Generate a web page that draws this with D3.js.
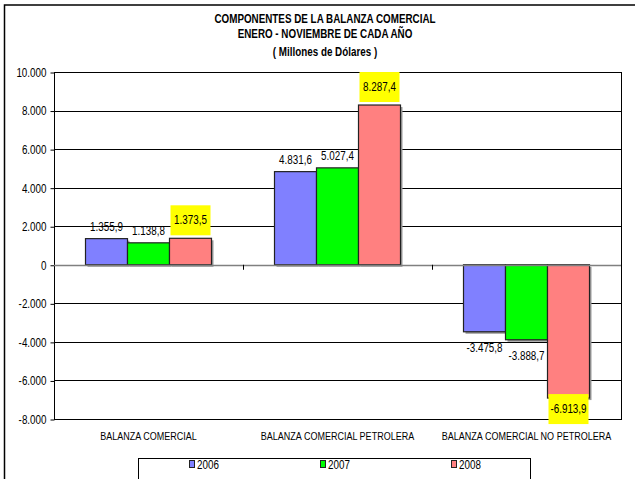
<!DOCTYPE html>
<html lang="es">
<head>
<meta charset="UTF-8">
<title>Componentes de la Balanza Comercial</title>
<script src="https://cdn.jsdelivr.net/npm/d3@7"></script>
<style>
    body { margin: 0; background: #fff; }
    svg { position: absolute; left: 0; top: 0; }
    text { font-family: "Liberation Sans", Arial, sans-serif; fill: #000; }
</style>
</head>
<body>
<svg id="chart" width="635" height="479"></svg>
<script>
    // data
    var categories = ["BALANZA COMERCIAL", "BALANZA COMERCIAL PETROLERA", "BALANZA COMERCIAL NO PETROLERA"]
    var years = ["2006", "2007", "2008"]
    var v2006 = [1355.9, 4831.6, -3475.8]
    var v2007 = [1138.8, 5027.4, -3888.7]
    var v2008 = [1373.5, 8287.4, -6913.9]
    var yTicks = [-8000, -6000, -4000, -2000, 0, 2000, 4000, 6000, 8000, 10000]
    var titleLines = ["COMPONENTES DE LA BALANZA COMERCIAL", "ENERO - NOVIEMBRE DE CADA AÑO", "( Millones de Dólares )"]
    var colors = ["#8080ff", "#00ff00", "#ff8080"]
    var highlight = "2008"   // labels on yellow boxes

    var series = [v2006, v2007, v2008]

    var svg = d3.select("#chart")
    var mLeft = 54, mRight = 621, mTop = 72, mBottom = 419
    var squeeze = 0.82   // no narrow font installed, so squeeze text horizontally

    // put a text at x,y and make it look like Arial Narrow
    function place(sel, fx, fy) {
        sel.attr("transform", function(d, i) {
            var xx = typeof fx === "function" ? fx(d, i) : fx
            var yy = typeof fy === "function" ? fy(d, i) : fy
            return "translate(" + xx + "," + yy + ") scale(" + squeeze + ",1)"
        })
    }

    // nº format 1.355,9
    var fmtNum = function(v) {
        var s = d3.format(",.1f")(v)
        return s.replace(/,/g, "#").replace(".", ",").replace(/#/g, ".").replace("−", "-")
    }
    var fmtTick = function(v) {
        return d3.format(",.0f")(v).replace(/,/g, ".").replace("−", "-")
    }

    // outer frame
    svg.append("rect")
        .attr("x", 4.5).attr("y", 5)
        .attr("width", 640).attr("height", 490)
        .attr("fill", "none").attr("stroke", "#000").attr("stroke-width", 1.5)

    // title
    svg.selectAll(".title").data(titleLines).enter().append("text")
        .attr("class", "title")
        .attr("text-anchor", "middle")
        .style("font-size", "12px")
        .style("font-weight", "bold")
        .text(function(d) { return d })
        .call(place, 325, function(d, i) { return [23, 38, 56][i] })

    var x0 = d3.scaleBand().domain(categories).range([mLeft, mRight])
    var x1 = d3.scaleBand().domain(years).range([0, x0.bandwidth()]).paddingOuter(0.75)
    var y = d3.scaleLinear().domain([-8000, 10000]).range([mBottom, mTop])

    // gridlines
    svg.append("g").selectAll("line").data(yTicks.filter(function(t) { return t !== 0 })).enter().append("line")
        .attr("x1", mLeft).attr("x2", mRight)
        .attr("y1", function(d) { return Math.round(y(d)) + 0.5 })
        .attr("y2", function(d) { return Math.round(y(d)) + 0.5 })
        .attr("stroke", "#000").attr("stroke-width", 1)

    // plot border
    svg.append("rect")
        .attr("x", mLeft + 0.5).attr("y", Math.round(y(10000)) + 0.5)
        .attr("width", mRight - mLeft).attr("height", Math.round(y(-8000)) - Math.round(y(10000)))
        .attr("fill", "none").attr("stroke", "#000").attr("stroke-width", 1)

    // y axis
    var yAxis = d3.axisLeft(y).tickValues(yTicks).tickSize(4).tickPadding(4).tickFormat(fmtTick)
    var ga = svg.append("g").attr("transform", "translate(" + (mLeft + 0.5) + ",0.5)").call(yAxis)
    ga.select(".domain").remove()
    ga.selectAll("line").attr("stroke", "#000")
    ga.selectAll("text")
        .style("font-size", "12px").attr("font-family", null).attr("font-size", null)
        .attr("x", null).attr("dy", "0.32em")
        .call(place, -8, 0)

    // bars: shadow then bar
    var groups = svg.append("g").selectAll("g").data(series).enter().append("g")
    groups.each(function(vals, si) {
        var g = d3.select(this)
        var yr = years[si]
        vals.forEach(function(v, ci) {
            var bx = x0(categories[ci]) + x1(yr)
            var by = Math.min(y(v), y(0))
            var bh = Math.abs(y(v) - y(0))
            g.append("rect")
                .attr("x", bx + 2).attr("y", by + 2)
                .attr("width", x1.bandwidth()).attr("height", bh)
                .attr("fill", "#9a9a9a")
            g.append("rect")
                .attr("x", bx).attr("y", by)
                .attr("width", x1.bandwidth()).attr("height", bh)
                .attr("fill", colors[si]).attr("stroke", "#222").attr("stroke-width", 1.2)
        })
    })

    // zero axis line and category ticks
    svg.append("line")
        .attr("x1", mLeft).attr("x2", mRight)
        .attr("y1", Math.round(y(0)) + 0.5).attr("y2", Math.round(y(0)) + 0.5)
        .attr("stroke", "#808080").attr("stroke-width", 1.5)
    svg.append("g").selectAll("line").data(categories.slice(1)).enter().append("line")
        .attr("x1", function(d) { return Math.round(x0(d)) + 0.5 })
        .attr("x2", function(d) { return Math.round(x0(d)) + 0.5 })
        .attr("y1", y(0)).attr("y2", y(0) + 5)
        .attr("stroke", "#000")

    // value labels
    series.forEach(function(vals, si) {
        var yr = years[si]
        vals.forEach(function(v, ci) {
            var cx = x0(categories[ci]) + x1(yr) + x1.bandwidth() / 2
            if (yr === highlight) {
                var bw = 40, bh = 30
                var boxY = v >= 0 ? y(v) - bh - 3 : y(v) - 4
                svg.append("rect")
                    .attr("x", cx - bw / 2).attr("y", boxY)
                    .attr("width", bw).attr("height", bh)
                    .attr("fill", "#ffff00")
                svg.append("text")
                    .attr("text-anchor", "middle")
                    .style("font-size", "12px")
                    .text(fmtNum(v))
                    .call(place, cx, boxY + bh / 2 + 4)
            } else {
                svg.append("text")
                    .attr("text-anchor", "middle")
                    .style("font-size", "12px")
                    .text(fmtNum(v))
                    .call(place, cx, v >= 0 ? y(v) - 8 : y(v) + 20)
            }
        })
    })

    // category labels
    svg.append("g").selectAll("text").data(categories).enter().append("text")
        .attr("text-anchor", "middle")
        .style("font-size", "11px")
        .text(function(d) { return d })
        .call(place, function(d) { return x0(d) + x0.bandwidth() / 2 }, 440)

    // legend
    svg.append("rect")
        .attr("x", 138.5).attr("y", 458.5)
        .attr("width", 392).attr("height", 40)
        .attr("fill", "#fff").attr("stroke", "#000").attr("stroke-width", 1)
    var legendX = [189, 320, 451]
    var lg = svg.append("g").selectAll("g").data(years).enter().append("g")
        .attr("transform", function(d, i) { return "translate(" + legendX[i] + ",0)" })
    lg.append("rect")
        .attr("x", 0.5).attr("y", 460.5).attr("width", 5).attr("height", 7)
        .attr("fill", function(d, i) { return colors[i] }).attr("stroke", "#222")
    lg.append("text")
        .style("font-size", "12px")
        .text(function(d) { return d })
        .call(place, 8, 469)
</script>
</body>
</html>
